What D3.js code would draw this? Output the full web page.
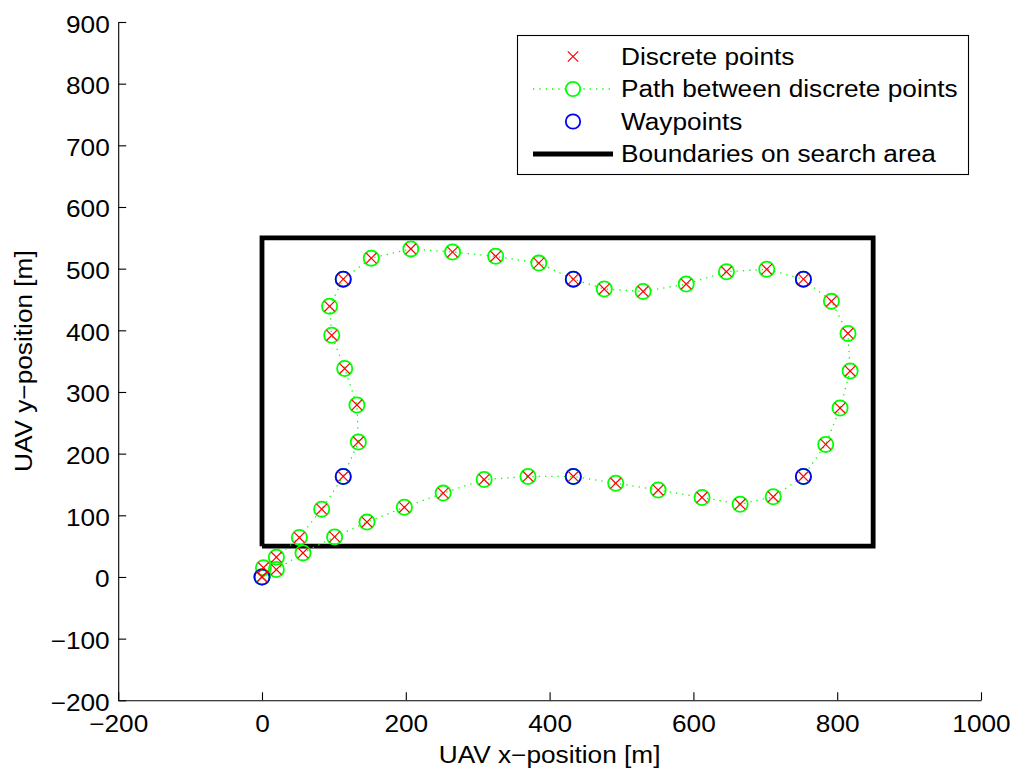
<!DOCTYPE html>
<html>
<head>
<meta charset="utf-8">
<script src="https://cdn.jsdelivr.net/npm/d3@7"></script>
<style>
  body { margin: 0; background: #fff; }
  text { font-family: "Liberation Sans", Arial, Helvetica, sans-serif; fill: #000; }
</style>
</head>
<body>
<svg id="chart" width="1013" height="771"></svg>
<script>
// Discrete points along the UAV route (also the vertices of the path), in metres
const pathX = [0, 2, 20, 52, 83, 113, 134, 132, 115, 97, 94, 113, 152, 207, 265, 325, 385, 433,
               476, 530, 590, 646, 702, 753, 792, 815, 818, 804, 784, 753, 711, 665, 612, 551,
               492, 433, 370, 309, 252, 198, 146, 101, 57, 20, 0];
const pathY = [0, 15, 32, 64, 110, 163, 219, 279, 338, 392, 439, 483, 517, 532, 527, 520, 509, 483,
               467, 463, 475, 495, 499, 483, 447, 395, 334, 274, 215, 163, 130, 118, 129, 141,
               152, 163, 163, 158, 136, 113, 89, 65, 39, 12, 0];

// Waypoints
const waypointX = [0, 113, 113, 433, 753, 753, 433];
const waypointY = [0, 163, 483, 483, 483, 163, 163];

// Search area boundary (closed rectangle)
const boundaryX = [0, 850, 850, 0, 0];
const boundaryY = [50, 50, 550, 550, 50];

// Axis ticks
const xTicks = [-200, 0, 200, 400, 600, 800, 1000];
const yTicks = [-200, -100, 0, 100, 200, 300, 400, 500, 600, 700, 800, 900];

const legendLabels = ["Discrete points", "Path between discrete points", "Waypoints", "Boundaries on search area"];

const RED = "#ff0000", GREEN = "#00ff00", BLUE = "#0000ff";
const FONT = 23;
const R = 7.6;

const svg = d3.select("#chart");

const x = d3.scaleLinear().domain([-200, 1000]).range([118.2, 981]);
const y = d3.scaleLinear().domain([-200, 900]).range([700.3, 22]);

// Helvetica-style wide text: stretch each label horizontally
function widen(sel, f = 1.14) {
  sel.each(function () {
    const len = this.getComputedTextLength();
    this.setAttribute("textLength", len * f);
    this.setAttribute("lengthAdjust", "spacingAndGlyphs");
  });
}

const fmt = d => d3.format("d")(d).replace("-", "\u2212");

// Axes (box off, ticks pointing inward)
const gx = svg.append("g")
  .attr("transform", `translate(0,${y.range()[0]})`)
  .call(d3.axisBottom(x).tickValues(xTicks).tickFormat(fmt).tickSizeInner(-8).tickSizeOuter(0));
gx.selectAll("text").attr("y", 32).attr("dy", null).style("font-size", FONT + "px");

const gy = svg.append("g")
  .attr("transform", `translate(${x.range()[0]},0)`)
  .call(d3.axisLeft(y).tickValues(yTicks).tickFormat(fmt).tickSizeInner(-8).tickSizeOuter(0));
gy.selectAll("text").attr("x", -8.5).attr("dy", "10px").style("font-size", FONT + "px");

svg.selectAll(".domain, .tick line").attr("stroke", "#000").attr("stroke-width", 1.1);
svg.selectAll(".tick text").call(widen);

// Axis titles
svg.append("text")
  .attr("x", (x.range()[0] + x.range()[1]) / 2)
  .attr("y", 763)
  .attr("text-anchor", "middle")
  .style("font-size", FONT + "px")
  .text("UAV x\u2212position [m]")
  .call(widen);

svg.append("text")
  .attr("transform", `translate(32,${(y.range()[0] + y.range()[1]) / 2}) rotate(-90)`)
  .attr("text-anchor", "middle")
  .style("font-size", FONT + "px")
  .text("UAV y\u2212position [m]")
  .call(widen);

// Search-area boundary
const boundary = boundaryX.map((d, i) => [d, boundaryY[i]]);
svg.append("path")
  .datum(boundary)
  .attr("d", d3.line().x(d => x(d[0])).y(d => y(d[1])))
  .attr("fill", "none")
  .attr("stroke", "#000")
  .attr("stroke-width", 4.8)
  .attr("stroke-linejoin", "miter");

// Dotted path between discrete points
const pts = pathX.map((d, i) => [d, pathY[i]]);
svg.append("path")
  .datum(pts)
  .attr("d", d3.line().x(d => x(d[0])).y(d => y(d[1])))
  .attr("fill", "none")
  .attr("stroke", GREEN)
  .attr("stroke-width", 1.3)
  .attr("stroke-dasharray", "1.3,5");

svg.append("g").selectAll("circle")
  .data(pts)
  .join("circle")
  .attr("cx", d => x(d[0]))
  .attr("cy", d => y(d[1]))
  .attr("r", R)
  .attr("fill", "none")
  .attr("stroke", GREEN)
  .attr("stroke-width", 1.8);

// Waypoints
const wps = waypointX.map((d, i) => [d, waypointY[i]]);
svg.append("g").selectAll("circle")
  .data(wps)
  .join("circle")
  .attr("cx", d => x(d[0]))
  .attr("cy", d => y(d[1]))
  .attr("r", R)
  .attr("fill", "none")
  .attr("stroke", BLUE)
  .attr("stroke-width", 1.8);

// Discrete points as red crosses
function cross(g, s) {
  g.append("line").attr("x1", -s).attr("y1", -s).attr("x2", s).attr("y2", s);
  g.append("line").attr("x1", -s).attr("y1", s).attr("x2", s).attr("y2", -s);
}
svg.append("g").selectAll("g")
  .data(pts)
  .join("g")
  .attr("transform", d => `translate(${x(d[0])},${y(d[1])})`)
  .attr("stroke", RED)
  .attr("stroke-width", 1.2)
  .each(function () { cross(d3.select(this), 5.2); });

// Legend
const legend = svg.append("g");
legend.append("rect")
  .attr("x", 517.5).attr("y", 35.5).attr("width", 451).attr("height", 139)
  .attr("fill", "#fff").attr("stroke", "#000").attr("stroke-width", 1.1);

const rowY = [56.5, 89, 121.5, 154];
const symX = 573, lineX0 = 533, lineX1 = 613, textX = 621;

cross(legend.append("g").attr("transform", `translate(${symX},${rowY[0]})`)
  .attr("stroke", RED).attr("stroke-width", 1.2), 5.2);

legend.append("line")
  .attr("x1", lineX0).attr("x2", lineX1).attr("y1", rowY[1]).attr("y2", rowY[1])
  .attr("stroke", GREEN).attr("stroke-width", 1.3).attr("stroke-dasharray", "1.3,5");
legend.append("circle").attr("cx", symX).attr("cy", rowY[1]).attr("r", 7.2)
  .attr("fill", "#fff").attr("stroke", GREEN).attr("stroke-width", 1.8);

legend.append("circle").attr("cx", symX).attr("cy", rowY[2]).attr("r", 7.2)
  .attr("fill", "none").attr("stroke", BLUE).attr("stroke-width", 1.8);

legend.append("line")
  .attr("x1", lineX0).attr("x2", lineX1).attr("y1", rowY[3]).attr("y2", rowY[3])
  .attr("stroke", "#000").attr("stroke-width", 4.8);

legend.selectAll("text.lbl")
  .data(legendLabels)
  .join("text")
  .attr("class", "lbl")
  .attr("x", textX)
  .attr("y", (d, i) => rowY[i] + 8)
  .style("font-size", FONT + "px")
  .text(d => d)
  .call(widen);
</script>
</body>
</html>
